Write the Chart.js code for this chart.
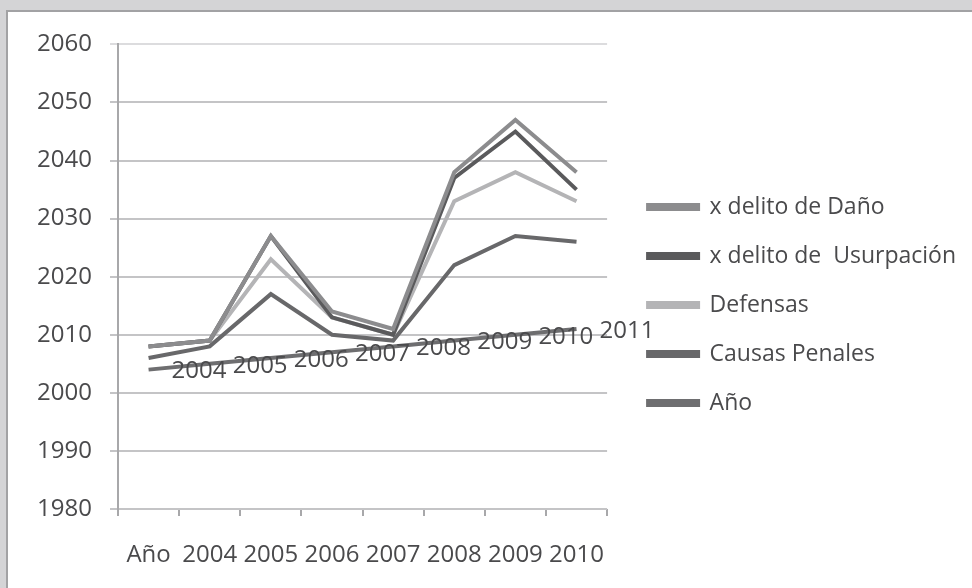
<!DOCTYPE html>
<html>
<head>
<meta charset="utf-8">
<script src="https://cdn.jsdelivr.net/npm/chart.js@4/dist/chart.umd.min.js"></script>
<style>
  html, body { margin: 0; padding: 0; width: 972px; height: 588px; background: #d4d4d6; overflow: hidden; }
  #frame { position: absolute; left: 6px; top: 10px; width: 966px; height: 578px;
           border-left: 2px solid #a2a2a4; border-top: 2px solid #a2a2a4; background: #ffffff; }
  #wrap { position: absolute; left: 0; top: 0; width: 964px; height: 576px; }
</style>
</head>
<body>
<div id="frame"><div id="wrap"><canvas id="c" width="964" height="576"></canvas></div></div>
<script>
const categories = ['Año', '2004', '2005', '2006', '2007', '2008', '2009', '2010'];
const seriesNames = ['x delito de Daño', 'x delito de  Usurpación', 'Defensas', 'Causas Penales', 'Año'];
const dano       = [2008, 2009, 2027, 2014, 2011, 2038, 2047, 2038];
const usurpacion = [2008, 2009, 2027, 2013, 2010, 2037, 2045, 2035];
const defensas   = [2008, 2009, 2023, 2013, 2010, 2033, 2038, 2033];
const causas     = [2006, 2008, 2017, 2010, 2009, 2022, 2027, 2026];
const anio       = [2004, 2005, 2006, 2007, 2008, 2009, 2010, 2011];
const yTicks     = [1980, 1990, 2000, 2010, 2020, 2030, 2040, 2050, 2060];

const colors = ['#8c8c8e', '#5a5a5c', '#b4b4b6', '#68686a', '#6e6e70'];
const FONT = '"Open Sans", sans-serif';
const TICK_SIZE = 24;
const LEGEND_SIZE = 23;
const TEXT_COLOR = '#4a4a4c';

const seriesData = [dano, usurpacion, defensas, causas, anio];

const dataLabelPlugin = {
  id: 'anioLabels',
  afterDatasetsDraw(chart) {
    const meta = chart.getDatasetMeta(4);
    const ctx = chart.ctx;
    ctx.save();
    ctx.font = TICK_SIZE + 'px ' + FONT;
    ctx.fillStyle = TEXT_COLOR;
    ctx.textAlign = 'left';
    ctx.textBaseline = 'middle';
    meta.data.forEach((pt, i) => {
      ctx.fillText(String(anio[i]), pt.x + 23, pt.y + 2);
    });
    ctx.restore();
  }
};

const legendShift = {
  id: 'legendShift',
  afterLayout(chart) {
    const lg = chart.legend;
    if (!lg) return;
    const dx = 15, dy = -11;
    lg.left += dx; lg.right += dx; lg.top += dy; lg.bottom += dy;
  }
};

new Chart(document.getElementById('c'), {
  type: 'line',
  data: {
    labels: categories,
    datasets: seriesNames.map((n, i) => ({
      label: n,
      data: seriesData[i],
      borderColor: colors[i],
      backgroundColor: colors[i],
      borderWidth: 4,
      pointRadius: 0,
      tension: 0,
      fill: false
    }))
  },
  options: {
    responsive: false,
    animation: false,
    devicePixelRatio: 1,
    layout: { padding: { top: 32, left: 0, right: 21, bottom: 0 } },
    plugins: {
      tooltip: { enabled: false },
      legend: {
        position: 'right',
        align: 'center',
        maxWidth: 366,
        labels: {
          boxWidth: 50,
          boxHeight: 4,
          padding: 26,
          color: TEXT_COLOR,
          font: { family: FONT, size: LEGEND_SIZE }
        }
      }
    },
    scales: {
      x: {
        offset: true,
        grid: { display: true, drawOnChartArea: false, drawTicks: true, tickLength: 7, offset: true, color: '#a8a8aa', lineWidth: 2 },
        border: { display: false },
        ticks: { color: TEXT_COLOR, font: { family: FONT, size: TICK_SIZE }, padding: 25, maxRotation: 0, autoSkip: false },
        afterFit(s) { s.height = 79; }
      },
      y: {
        min: 1980, max: 2060,
        afterBuildTicks(s) { s.ticks = yTicks.map(v => ({ value: v })); },
        grid: {
          color: (c) => (c.tick && c.tick.value === 2060) ? '#dcdcde' : '#c4c4c6',
          lineWidth: 2, tickLength: 8, drawTicks: true
        },
        border: { display: true, color: '#a8a8aa', width: 2 },
        ticks: { color: TEXT_COLOR, font: { family: FONT, size: TICK_SIZE }, padding: 18, callback: (v) => String(v) },
        afterFit(s) { s.width = 110; }
      }
    }
  },
  plugins: [dataLabelPlugin, legendShift]
});
</script>
</body>
</html>
